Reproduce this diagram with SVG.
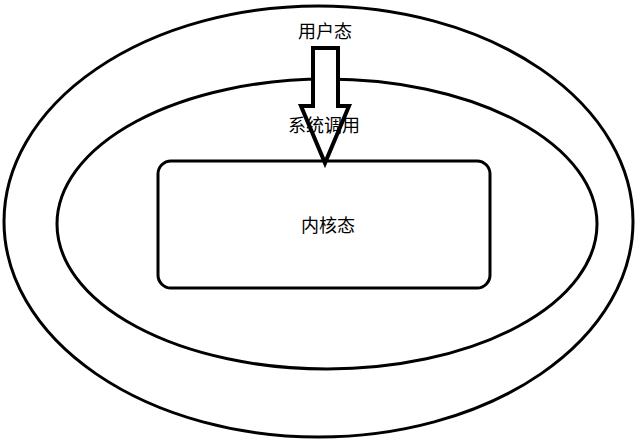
<svg xmlns="http://www.w3.org/2000/svg" width="640" height="440" viewBox="0 0 640 440">
<style>
.s{fill:none;stroke:#000;stroke-width:3}
.t{font-family:"Noto Sans CJK SC","Noto Sans",sans-serif;font-size:18px;fill:#000;text-anchor:middle}
</style>
<rect width="640" height="440" fill="#fff"/>
<g id="outer"><ellipse class="s" cx="318.5" cy="221.5" rx="314.5" ry="215.5"/></g>
<g id="inner"><ellipse class="s" cx="327" cy="224" rx="270" ry="145"/></g>
<g id="kernel"><rect class="s" x="158" y="161" width="332" height="127" rx="13"/><text class="t" x="328" y="232">内核态</text></g>
<g id="connectors"><polygon points="313,48 338,48 338,106 349,106 325,163 301,106 313,106" fill="#fff" stroke="#000" stroke-width="4" stroke-linejoin="miter"/></g>
<g id="labels"><text class="t" x="325" y="38">用户态</text><text class="t" x="324" y="132">系统调用</text></g>
</svg>
